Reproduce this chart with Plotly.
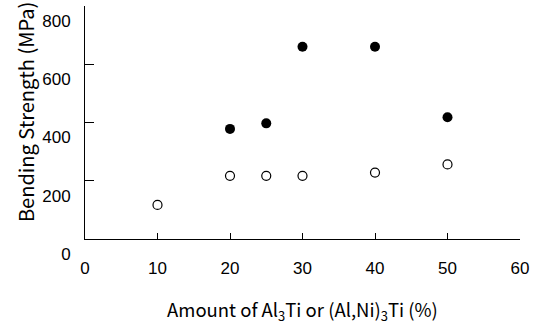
import plotly.graph_objects as go

x_filled = [20, 25, 30, 40, 50]
y_filled = [378, 397, 660, 660, 418]
x_open = [10, 20, 25, 30, 40, 50]
y_open = [117, 217, 217, 217, 228, 256]

x_ticks = [0, 10, 20, 30, 40, 50, 60]
y_ticks = [0, 200, 400, 600, 800]

x_title = "Amount of Al<sub>3</sub>Ti or (Al,Ni)<sub>3</sub>Ti (%)"
y_title = "Bending Strength (MPa)"

fig = go.Figure()
fig.add_trace(go.Scatter(x=x_filled, y=y_filled, mode="markers",
                         marker=dict(symbol="circle", size=10, color="black"),
                         showlegend=False))
fig.add_trace(go.Scatter(x=x_open, y=y_open, mode="markers",
                         marker=dict(symbol="circle-open", size=9, color="black",
                                     line=dict(width=1.2, color="black")),
                         showlegend=False))

tickfont = dict(family="Liberation Sans, Arial, sans-serif", size=17, color="black")
titlefont = dict(family="Noto Sans CJK JP, sans-serif", size=18.5, color="black")

fig.update_layout(
    width=537, height=326,
    margin=dict(l=85, r=17, t=6, b=87),
    plot_bgcolor="white", paper_bgcolor="white",
    xaxis=dict(range=[0, 60], tickvals=x_ticks, ticktext=[str(v) for v in x_ticks],
               showgrid=False, zeroline=False, showline=True, linecolor="black", linewidth=1,
               ticks="inside", ticklen=6, tickcolor="black", tickfont=tickfont,
               ticklabelstandoff=14, ticklabeloverflow="allow"),
    yaxis=dict(range=[0, 800], tickvals=y_ticks, ticktext=[str(v) for v in y_ticks],
               showgrid=False, zeroline=False, showline=True, linecolor="black", linewidth=1,
               ticks="inside", ticklen=9, tickcolor="black", tickfont=tickfont,
               ticklabelshift=15, ticklabelstandoff=10, ticklabeloverflow="allow"),
    annotations=[
        dict(text=y_title, xref="paper", yref="paper", x=0, y=0.545,
             xanchor="center", yanchor="middle", xshift=-60, textangle=-90,
             showarrow=False, font=dict(family="Noto Sans CJK JP, sans-serif",
                                        size=20, color="black")),
        dict(text=x_title, xref="paper", yref="paper", x=0.5, y=0,
             xanchor="center", yanchor="middle", yshift=-71,
             showarrow=False, font=titlefont),
    ],
)

fig.write_html("out.html")
